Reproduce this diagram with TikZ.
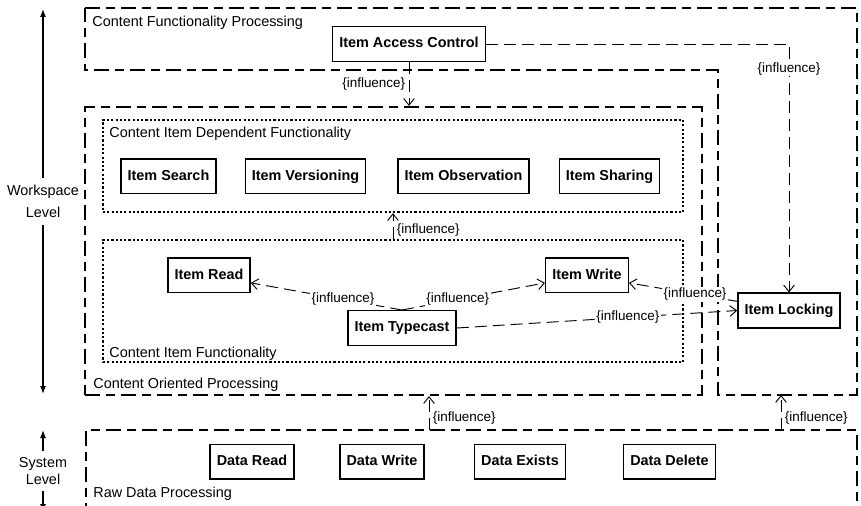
\documentclass[tikz,border=0pt]{standalone}
\usepackage{fontspec}
\setmainfont{Liberation Sans}
\usetikzlibrary{arrows.meta,calc,fit}

\tikzset{
  region/.style={draw,line width=1.6pt,dash pattern=on 11pt off 4.5pt on 7pt off 4.5pt,inner sep=0pt},
  subregion/.style={draw,line width=1.7pt,dash pattern=on 1.6pt off 1.6pt,inner sep=0pt},
  func/.style={draw,line width=1pt,font=\fontsize{10.8}{13}\selectfont\bfseries,minimum height=26pt,
    text height=8pt,text depth=2.4pt,inner xsep=5pt},
  infl/.style={line width=0.7pt,dash pattern=on 9pt off 4.5pt,-{Straight Barb[length=5pt,width=8pt]}},
  inflabel/.style={fill=white,inner sep=1pt,font=\fontsize{10.1}{12}\selectfont},
  regionlabel/.style={anchor=base west,inner sep=2pt},
  levelarrow/.style={line width=0.9pt,{Latex[length=6pt,width=4.5pt]}-{Latex[length=6pt,width=4.5pt]}},
}

\begin{document}
\begin{tikzpicture}[x=0.75pt,y=-0.75pt,font=\fontsize{10.8}{13}\selectfont]
\useasboundingbox (0,0) rectangle (861,506);

% Corners of the regions.
\coordinate (cfp1) at (85,8);   \coordinate (cfp2) at (857,8);
\coordinate (cfp3) at (857,395); \coordinate (cfp4) at (718,395);
\coordinate (cfp5) at (718,70);  \coordinate (cfp6) at (85,70);
\coordinate (copnw) at (85,107);  \coordinate (copse) at (702,395);
\coordinate (cidfnw) at (103,120); \coordinate (cidfse) at (683,212);
\coordinate (cifnw) at (103,240);  \coordinate (cifse) at (683,362);
\coordinate (rdpnw) at (86,430);   \coordinate (rdpse) at (857,507);

% Regions.
\draw[region] (cfp1) -- (cfp2) -- (cfp3) -- (cfp4) -- (cfp5) -- (cfp6) -- cycle;
\node[region,fit=(copnw)(copse)] (cop) {};
\node[subregion,fit=(cidfnw)(cidfse)] (cidf) {};
\node[subregion,fit=(cifnw)(cifse)] (cif) {};
\node[region,fit=(rdpnw)(rdpse)] (rdp) {};

\node[regionlabel] (cfplabel) at (89.5,27) {Content Functionality Processing};
\node[regionlabel] (cidflabel) at (106.5,138) {Content Item Dependent Functionality};
\node[regionlabel] (ciflabel) at (106.5,357) {Content Item Functionality};
\node[regionlabel] (coplabel) at (90.5,388) {Content Oriented Processing};
\node[regionlabel] (rdplabel) at (90.5,497) {Raw Data Processing};

% Functionalities.
\node[func] (iac) at (409,44) {Item Access Control};
\node[func] (search) at (168.5,176.5) {Item Search};
\node[func] (vers) at (305.5,176.5) {Item Versioning};
\node[func] (obs) at (463.5,176.5) {Item Observation};
\node[func] (share) at (609.5,176.5) {Item Sharing};
\node[func] (read) at (209,275.5) {Item Read};
\node[func] (write) at (587,275.5) {Item Write};
\node[func] (tc) at (402,328) {Item Typecast};
\node[func] (lock) at (789,310.5) {Item Locking};
\node[func] (dread) at (252,461.5) {Data Read};
\node[func] (dwrite) at (382,461.5) {Data Write};
\node[func] (dexists) at (520,461.5) {Data Exists};
\node[func] (ddelete) at (669.5,461.5) {Data Delete};

% Influences.
\draw[infl] (iac.south) -- (iac.south |- cop.north)
  node[pos=0.5,inflabel,anchor=east,xshift=-1.5pt] (l1) {\{influence\}};
\draw[infl] (iac.east) -- (iac.east -| lock.north)
  -- node[pos=0.1,inflabel] (l2) {\{influence\}} (lock.north);
\draw[infl] (cif.north) -- (cidf.south)
  node[pos=0.35,inflabel,anchor=west,xshift=1.5pt] (l3) {\{influence\}};
\draw[infl] (tc.north) -- node[pos=0.39,inflabel] (l4) {\{influence\}} (read.-10);
\draw[infl] (tc.north) -- node[pos=0.39,inflabel] (l5) {\{influence\}} (write.190);
\draw[infl] (lock.170) -- node[pos=0.39,inflabel] (l6) {\{influence\}} (write.-10);
\draw[infl] (tc.east) -- node[pos=0.61,inflabel] (l7) {\{influence\}} (lock.west);

\coordinate (rdpa) at (429,430);
\coordinate (rdpb) at (781,430);
\draw[infl] (rdpa) -- (rdpa |- cop.south)
  node[pos=0.35,inflabel,anchor=west,xshift=1.5pt] (l8) {\{influence\}};
\draw[infl] (rdpb) -- (rdpb |- cfp3)
  node[pos=0.35,inflabel,anchor=west,xshift=1.5pt] (l9) {\{influence\}};

% Levels.
\coordinate (wstop) at (43,9);
\coordinate (wsbot) at (43,394);
\coordinate (sytop) at (43,430);
\coordinate (sybot) at (43,512);
\draw[levelarrow] (wstop) -- node[fill=white,align=center,inner xsep=1pt,inner ysep=5pt] (wslabel) {Workspace\\[4pt]Level} (wsbot);
\draw[levelarrow] (sytop) -- node[fill=white,align=center,inner xsep=1pt,inner ysep=5pt] (sylabel) {System\\Level} (sybot);

\end{tikzpicture}
\end{document}
